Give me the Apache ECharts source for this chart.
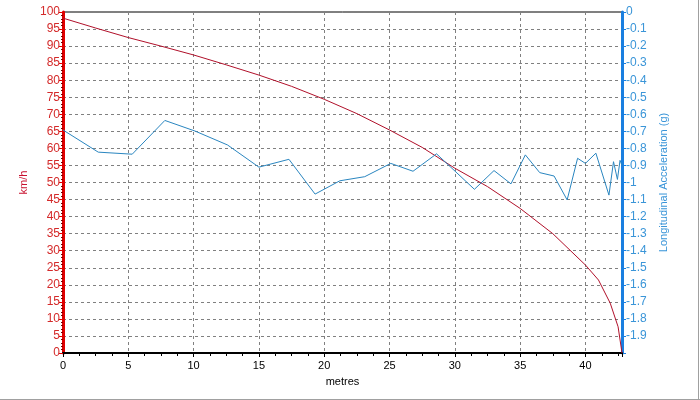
<!DOCTYPE html>
<html><head><meta charset="utf-8">
<script src="https://cdn.jsdelivr.net/npm/echarts@6/dist/echarts.min.js"></script>
<style>html,body{margin:0;padding:0;background:#fff}#c{width:700px;height:400px}</style>
</head><body><div id="c"></div>
<script>
// Speed trace (metres, km/h)
const speedDist = [0, 2.5, 5, 7.5, 10, 12.5, 15, 17.5, 20, 22.5, 25, 27.5, 30, 32.5, 35, 37.5, 40, 41, 41.9, 42.5, 42.8];
const speedKmh  = [98.2, 95.3, 92.5, 90, 87.4, 84.5, 81.5, 78.2, 74.4, 70.2, 65.4, 60.3, 54.2, 48.8, 42.4, 35, 25.8, 21.4, 14.6, 7.7, 0];
// Longitudinal acceleration trace (metres, g)
const accDist = [0, 2.7, 5.3, 7.8, 10.1, 12.6, 15.0, 17.3, 19.3, 21.2, 23.1, 25.1, 26.8, 28.6, 31.5, 33.0, 34.3, 35.4, 36.5, 37.6, 38.6, 39.4, 40.0, 40.8, 41.8, 42.15, 42.45, 42.65, 42.8];
const accG    = [-0.692, -0.822, -0.834, -0.636, -0.698, -0.78, -0.91, -0.864, -1.068, -0.99, -0.966, -0.888, -0.934, -0.832, -1.04, -0.93, -1.008, -0.838, -0.942, -0.962, -1.102, -0.858, -0.888, -0.828, -1.074, -0.878, -0.982, -0.87, -0.9];

const chart = echarts.init(document.getElementById('c'), null, {renderer: 'canvas'});
const font = 'Arial, "Liberation Sans", sans-serif';
chart.setOption({
  backgroundColor: '#ffffff',
  animation: false,
  grid: {left: 63, right: 78, top: 12, bottom: 47, show: true, borderColor: '#000', borderWidth: 1, backgroundColor: 'transparent'},
  graphic: [
    {type: 'line', shape: {x1: 0, y1: 399.5, x2: 700, y2: 399.5}, style: {stroke: '#a0a0a0', lineWidth: 1}},
    {type: 'line', shape: {x1: 698.5, y1: 0, x2: 698.5, y2: 400}, style: {stroke: '#a0a0a0', lineWidth: 1}}
  ],
  xAxis: {
    type: 'value', min: 0, max: 42.8, interval: 5,
    name: 'metres', nameLocation: 'middle', nameGap: 23,
    nameTextStyle: {color: '#000', fontSize: 11, fontFamily: font},
    axisLine: {show: true, onZero: false, lineStyle: {color: '#000', width: 2}},
    axisTick: {show: true, length: 4, lineStyle: {color: '#000'}},
    minorTick: {show: true, splitNumber: 4, length: 3, lineStyle: {color: '#000'}},
    axisLabel: {color: '#000', fontSize: 11, fontFamily: font, margin: 7, showMaxLabel: false},
    splitLine: {show: true, lineStyle: {color: '#808080', type: [3, 3], width: 1}}
  },
  yAxis: [{
    type: 'value', min: 0, max: 100, interval: 5, position: 'left',
    name: 'km/h', nameLocation: 'middle', nameGap: 31, nameRotate: 90,
    nameTextStyle: {color: '#c8102e', fontSize: 11, fontFamily: font},
    axisLine: {show: true, lineStyle: {color: '#e00000', width: 3}},
    axisTick: {show: true, length: 4, lineStyle: {color: '#e00000'}},
    minorTick: {show: true, splitNumber: 5, length: 2, lineStyle: {color: '#800000'}},
    axisLabel: {color: '#d42a2a', fontSize: 12, fontFamily: font, margin: 3},
    splitLine: {show: true, lineStyle: {color: '#808080', type: [3, 3], width: 1}}
  }, {
    type: 'value', min: -2, max: 0, interval: 0.1, position: 'right',
    name: 'Longitudinal Acceleration (g)', nameLocation: 'middle', nameGap: 36, nameRotate: 90,
    nameTextStyle: {color: '#3a95d8', fontSize: 11, fontFamily: font},
    axisLine: {show: true, lineStyle: {color: '#1a7fe0', width: 3}},
    axisTick: {show: true, length: 4, lineStyle: {color: '#1a7fe0'}},
    minorTick: {show: true, splitNumber: 5, length: 2, lineStyle: {color: '#1a7fe0'}},
    axisLabel: {color: '#3a95d8', fontSize: 12, fontFamily: font, margin: 4, showMinLabel: false,
      formatter: v => String(Math.round(v * 10) / 10)},
    splitLine: {show: false}
  }],
  series: [{
    type: 'line', yAxisIndex: 0, symbol: 'none',
    data: speedDist.map((d, i) => [d, speedKmh[i]]),
    lineStyle: {color: '#b0102a', width: 1}
  }, {
    type: 'line', yAxisIndex: 1, symbol: 'none',
    data: accDist.map((d, i) => [d, accG[i]]),
    lineStyle: {color: '#2a86c0', width: 1}
  }]
});
</script></body></html>
